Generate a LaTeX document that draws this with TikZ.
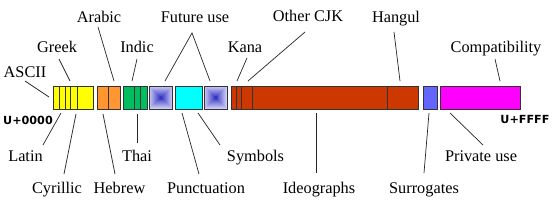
\documentclass[tikz,border=0pt]{standalone}
\usepackage{fontspec}
\setmainfont{Liberation Serif}
\newfontfamily\codefont{DejaVu Sans}
\definecolor{gedge}{RGB}{205,205,245}
\definecolor{gcen}{RGB}{40,40,190}
\definecolor{segyellow}{RGB}{255,255,0}
\definecolor{segorange}{RGB}{255,150,50}
\definecolor{seggreen}{RGB}{0,190,95}
\definecolor{segcyan}{RGB}{0,255,255}
\definecolor{segred}{RGB}{205,55,0}
\definecolor{segblue}{RGB}{100,100,255}
\definecolor{segmagenta}{RGB}{255,0,255}
\begin{document}
\begin{tikzpicture}[x=1pt,y=-1pt,
  lbl/.style={inner sep=0pt,anchor=base,font=\fontsize{16.3}{18}\selectfont},
  code/.style={inner sep=0pt,anchor=base,font=\codefont\bfseries\fontsize{11.2}{13}\selectfont},
  seg/.style={draw=black!80,line width=0.8pt,inner sep=0pt,minimum height=23pt},
  div/.style={draw=black!80,line width=0.8pt},
  conn/.style={draw=black!85,line width=0.7pt}]
\useasboundingbox[fill=white] (0,0) rectangle (554,206);

% --- bar segments ---
\node[seg,fill=segyellow,minimum width=40pt] (latin) at (73,97.5) {};
\draw[div] (59.3,86) -- (59.3,109) (65,86) -- (65,109) (70,86) -- (70,109) (77.7,86) -- (77.7,109);
\node[seg,fill=segorange,minimum width=23pt] (arab) at (108.5,97.5) {};
\draw[div] (108,86) -- (108,109);
\node[seg,fill=seggreen,minimum width=24pt] (indic) at (135,97.5) {};
\draw[div] (134,86) -- (134,109) (140,86) -- (140,109);
% gradient boxes
\foreach \cx/\nm in {161/fut1,215.5/fut2}{
  \foreach \k in {0,...,11}{
    \pgfmathsetmacro{\ins}{\k*0.95}
    \pgfmathtruncatemacro{\tmix}{100-\k*8.3}
    \fill[gedge!\tmix!gcen]
      (\cx-11.5+\ins,86+\ins) rectangle (\cx+11.5-\ins,109-\ins);
  }
  \node[seg,minimum width=23pt] (\nm) at (\cx,97.5) {};
}
\node[seg,fill=segcyan,minimum width=27pt] (punct) at (188.5,97.5) {};
\node[seg,fill=segred,minimum width=187pt] (cjk) at (324.5,97.5) {};
\draw[div] (236,86) -- (236,109) (241,86) -- (241,109) (252,86) -- (252,109) (387,86) -- (387,109);
\node[seg,fill=segblue,minimum width=14pt] (surr) at (430,97.5) {};
\node[seg,fill=segmagenta,minimum width=80pt] (priv) at (480.5,97.5) {};

% --- range labels ---
\node[code] (u0) at (28,124) {U+0000};
\node[code] (uf) at (525,123) {U+FFFF};

% --- top labels ---
\node[lbl] (tascii) at (25,77) {ASCII};
\node[lbl] (tgreek) at (57,52.7) {Greek};
\node[lbl] (tarabic) at (99,22.7) {Arabic};
\node[lbl] (tindic) at (137,52.7) {Indic};
\node[lbl] (tfuture) at (195,22.7) {Future use};
\node[lbl] (tkana) at (245,52.7) {Kana};
\node[lbl] (tcjk) at (308,21.7) {Other CJK};
\node[lbl] (thangul) at (396,22) {Hangul};
\node[lbl] (tcompat) at (496,52.5) {Compatibility};

% --- bottom labels ---
\node[lbl] (blatin) at (25.5,161) {Latin};
\node[lbl] (bcyr) at (57,193) {Cyrillic};
\node[lbl] (bheb) at (119.5,193) {Hebrew};
\node[lbl] (bthai) at (137,161) {Thai};
\node[lbl] (bpunct) at (206,193) {Punctuation};
\node[lbl] (bsym) at (255.5,161) {Symbols};
\node[lbl] (bideo) at (319,193) {Ideographs};
\node[lbl] (bsurr) at (424,193) {Surrogates};
\node[lbl] (bpriv) at (481,161) {Private use};

% --- connector end points ---
\coordinate (a1) at (25,81);   \coordinate (a2) at (49,97);
\coordinate (g1) at (59,59);   \coordinate (g2) at (70,81);
\coordinate (r1) at (98,27);   \coordinate (r2) at (114,81);
\coordinate (i1) at (137,59);  \coordinate (i2) at (132,81);
\coordinate (f0) at (192,33);  \coordinate (f1) at (165,81); \coordinate (f2) at (210,81);
\coordinate (k1) at (247,58);  \coordinate (k2) at (237,81);
\coordinate (o1) at (305,32);  \coordinate (o2) at (248,81);
\coordinate (h1) at (394,32);  \coordinate (h2) at (400,81);
\coordinate (c1) at (495,59);  \coordinate (c2) at (500,81);
\coordinate (l1) at (43,145);  \coordinate (l2) at (61,113);
\coordinate (y1) at (64,174);  \coordinate (y2) at (76,114);
\coordinate (e1) at (115,174); \coordinate (e2) at (103,114);
\coordinate (t1) at (137,143); \coordinate (t2) at (137,114);
\coordinate (p1) at (199,174); \coordinate (p2) at (182,113);
\coordinate (s1) at (220,145); \coordinate (s2) at (198,113);
\coordinate (d1) at (316,173); \coordinate (d2) at (316,113);
\coordinate (q1) at (424,173); \coordinate (q2) at (429,113);
\coordinate (v1) at (483,145); \coordinate (v2) at (450,113);

\draw[conn] (a1) -- (a2);
\draw[conn] (g1) -- (g2);
\draw[conn] (r1) -- (r2);
\draw[conn] (i1) -- (i2);
\draw[conn] (f1) -- (f0) -- (f2);
\draw[conn] (k1) -- (k2);
\draw[conn] (o1) -- (o2);
\draw[conn] (h1) -- (h2);
\draw[conn] (c1) -- (c2);
\draw[conn] (l1) -- (l2);
\draw[conn] (y1) -- (y2);
\draw[conn] (e1) -- (e2);
\draw[conn] (t1) -- (t2);
\draw[conn] (p1) -- (p2);
\draw[conn] (s1) -- (s2);
\draw[conn] (d1) -- (d2);
\draw[conn] (q1) -- (q2);
\draw[conn] (v1) -- (v2);
\end{tikzpicture}
\end{document}
